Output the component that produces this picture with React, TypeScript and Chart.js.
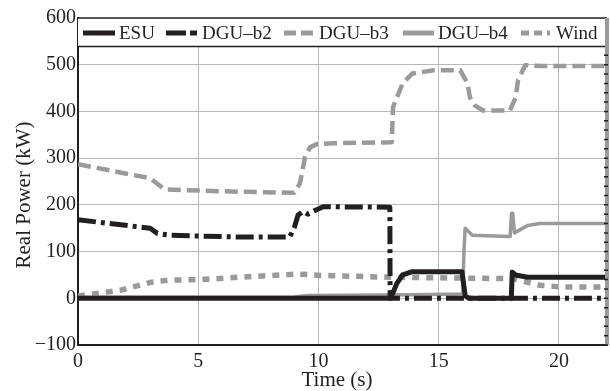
import React, { useEffect, useRef } from "react";
import { Chart, registerables } from "chart.js";

Chart.register(...registerables);

// ---- data (time in s, real power in kW) ----
const esuT = [0, 12.97, 13.1, 13.26, 13.5, 13.9, 15.97, 16.1, 16.25, 18.02, 18.06, 18.2, 18.7, 22];
const esuP = [0, 0, 12, 32, 50, 57, 57, 6, 0, 0, 56, 50, 45, 45];

const b2T = [0, 3.0, 3.3, 3.8, 6.7, 8.8, 9.0, 9.15, 9.36, 9.56, 9.85, 10.2, 12.97, 12.98, 22];
const b2P = [168, 150, 139, 135, 131, 131, 152, 178, 186, 180, 188, 196, 195, 0, 0];

const b3T = [0, 3.0, 3.6, 6.7, 9.0, 9.23, 9.44, 9.65, 9.93, 10.6, 13.05, 13.1, 13.5, 13.9, 14.8, 15.9, 16.2, 16.3, 16.5, 16.85, 17.96, 18.2, 18.3, 18.6, 19.3, 22];
const b3P = [287, 257, 233, 228, 226, 246, 302, 323, 330, 332, 334, 409, 460, 481, 488, 488, 460, 430, 413, 402, 402, 430, 467, 499, 497, 497];

const b4T = [0, 9.0, 9.5, 13.0, 16.0, 16.05, 16.1, 16.4, 17.97, 18.03, 18.08, 18.15, 18.7, 19.2, 22];
const b4P = [2, 3, 6, 7, 9, 100, 150, 135, 132, 182, 182, 140, 156, 160, 160];

const windT = [0, 1.75, 3.0, 3.8, 5.1, 6.7, 9.15, 10.06, 12.97, 18.0, 18.25, 19.2, 20.2, 22];
const windP = [5, 17, 34, 39, 40, 45, 52, 49, 45, 42, 40, 28, 24, 24];

const seriesNames = ["ESU", "DGU\u2013b2", "DGU\u2013b3", "DGU\u2013b4", "Wind"];
const yTicks = [-100, 0, 100, 200, 300, 400, 500, 600];
const xTicks = [0, 5, 10, 15, 20];

const BLACK = "#231f20";
const GRAY = "#9a9a9a";
const FONT = "'Liberation Serif', 'Times New Roman', serif";

const pts = (t: number[], p: number[]) => t.map((x, i) => ({ x, y: p[i] }));

const styles = [
  { color: BLACK, width: 5, dash: [] as number[] },
  { color: BLACK, width: 5, dash: [18, 5, 4, 5] },
  { color: GRAY, width: 4.5, dash: [13, 6] },
  { color: GRAY, width: 3.5, dash: [] as number[] },
  { color: GRAY, width: 5.5, dash: [7, 7] },
];

const legendPlugin = {
  id: "boxLegend",
  afterDatasetsDraw(chart: any) {
    const { ctx, chartArea } = chart;
    const top = chartArea.top;
    const h = 28.5;
    ctx.save();
    ctx.fillStyle = "#fff";
    ctx.fillRect(chartArea.left, top, chartArea.right - chartArea.left, h);
    ctx.strokeStyle = BLACK;
    ctx.lineWidth = 1.5;
    ctx.beginPath();
    ctx.moveTo(chartArea.left, top);
    ctx.lineTo(chartArea.right, top);
    ctx.moveTo(chartArea.left, top + h);
    ctx.lineTo(chartArea.right, top + h);
    ctx.stroke();
    const items = [
      { x0: 5, x1: 37, tx: 41, dash: [] as number[] },
      { x0: 88, x1: 119, tx: 124, dash: [20, 4, 7, 20] },
      { x0: 206, x1: 237, tx: 241, dash: [12, 5] },
      { x0: 325, x1: 356, tx: 360, dash: [] as number[] },
      { x0: 443, x1: 474, tx: 478, dash: [8, 5, 8, 5, 3, 10] },
    ];
    const cy = top + 15;
    items.forEach((it, i) => {
      const s = styles[i];
      ctx.strokeStyle = s.color;
      ctx.lineWidth = 5;
      ctx.lineCap = "butt";
      ctx.setLineDash(it.dash);
      ctx.beginPath();
      ctx.moveTo(chartArea.left + it.x0, cy);
      ctx.lineTo(chartArea.left + it.x1, cy);
      ctx.stroke();
      ctx.setLineDash([]);
      ctx.fillStyle = BLACK;
      ctx.font = `19px ${FONT}`;
      ctx.textAlign = "left";
      ctx.textBaseline = "middle";
      ctx.fillText(seriesNames[i], chartArea.left + it.tx, cy + 1);
    });
    ctx.restore();
  },
  afterDraw(chart: any) {
    const { ctx, chartArea, scales } = chart;
    ctx.save();
    // right border: gray bar with small black ticks
    ctx.strokeStyle = GRAY;
    ctx.lineWidth = 4;
    ctx.beginPath();
    ctx.moveTo(chartArea.right, chartArea.top);
    ctx.lineTo(chartArea.right, chartArea.bottom);
    ctx.stroke();
    ctx.strokeStyle = BLACK;
    ctx.lineWidth = 1.5;
    ctx.beginPath();
    for (let v = -100; v <= 600; v += 20) {
      const y = scales.y.getPixelForValue(v);
      if (y < chartArea.top + 29) continue;
      ctx.moveTo(chartArea.right - 3, y);
      ctx.lineTo(chartArea.right + 1, y);
    }
    ctx.stroke();
    // axis titles
    ctx.fillStyle = BLACK;
    ctx.font = `21px ${FONT}`;
    ctx.textAlign = "center";
    ctx.textBaseline = "middle";
    ctx.fillText("Time (s)", 337, 380);
    ctx.translate(24, 195);
    ctx.rotate(-Math.PI / 2);
    ctx.fillText("Real Power (kW)", 0, 0);
    ctx.restore();
  },
};

export default function App() {
  const ref = useRef<HTMLCanvasElement | null>(null);
  useEffect(() => {
    if (!ref.current) return;
    const series = [pts(esuT, esuP), pts(b2T, b2P), pts(b3T, b3P), pts(b4T, b4P), pts(windT, windP)];
    const chart = new Chart(ref.current, {
      type: "line",
      data: {
        datasets: series.map((d, i) => ({
          label: seriesNames[i],
          data: d,
          borderColor: styles[i].color,
          borderWidth: styles[i].width,
          borderDash: styles[i].dash,
          borderCapStyle: "butt",
          borderJoinStyle: "round",
          pointRadius: 0,
          fill: false,
          tension: 0,
        })),
      },
      options: {
        responsive: false,
        animation: false,
        devicePixelRatio: 1,
        layout: { padding: { top: 18, right: 3, left: 0, bottom: 0 } },
        plugins: { legend: { display: false }, tooltip: { enabled: false } },
        scales: {
          x: {
            type: "linear",
            min: 0,
            max: 22,
            afterBuildTicks: (axis: any) => {
              axis.ticks = xTicks.map((v) => ({ value: v }));
            },
            afterFit: (s: any) => {
              s.height = 46;
            },
            ticks: { color: BLACK, font: { family: FONT, size: 20 }, padding: 5, maxRotation: 0 },
            grid: { color: "#b8b8b8", lineWidth: 1, drawTicks: false },
            border: { color: BLACK, width: 2 },
          },
          y: {
            min: -100,
            max: 600,
            afterBuildTicks: (axis: any) => {
              axis.ticks = yTicks.map((v) => ({ value: v }));
            },
            afterFit: (s: any) => {
              s.width = 78;
            },
            ticks: {
              color: BLACK,
              font: { family: FONT, size: 20 },
              padding: 2,
              callback: (v: any) => (Number(v) < 0 ? "\u2212" + Math.abs(Number(v)) : String(v)),
            },
            grid: { color: "#b8b8b8", lineWidth: 1, drawTicks: false },
            border: { color: BLACK, width: 2 },
          },
        },
      },
      plugins: [legendPlugin],
    } as any);
    return () => chart.destroy();
  }, []);
  return (
    <div style={{ position: "fixed", left: 0, top: 0, width: 610, height: 391, background: "#fff" }}>
      <canvas ref={ref} width={610} height={391} />
    </div>
  );
}
